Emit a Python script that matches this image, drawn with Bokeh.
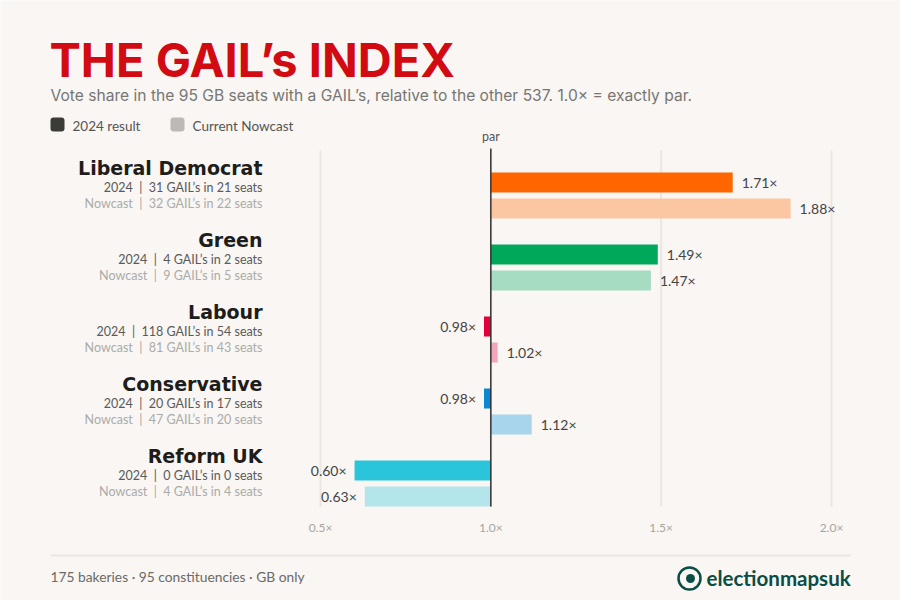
from bokeh.plotting import figure
from bokeh.models import Range1d
from bokeh.core.properties import value
from bokeh.embed import file_html
from bokeh.resources import INLINE

# ---------------- data ----------------
parties = ["Liberal Democrat", "Green", "Labour", "Conservative", "Reform UK"]
ratio_2024 = [1.71, 1.49, 0.98, 0.98, 0.60]
ratio_nowcast = [1.88, 1.47, 1.02, 1.12, 0.63]
gails_2024 = [31, 4, 118, 20, 0]
seats_2024 = [21, 2, 54, 17, 0]
gails_nowcast = [32, 9, 81, 47, 4]
seats_nowcast = [22, 5, 43, 20, 4]
colors_2024 = ["#ff6600", "#00a85a", "#e4003b", "#0a87d2", "#2ac5da"]
colors_nowcast = ["#fbc6a2", "#a6dcc1", "#f3a6b9", "#a8d5ec", "#b3e5ea"]
tick_values = [0.5, 1.0, 1.5, 2.0]
tick_labels = ["0.5×", "1.0×", "1.5×", "2.0×"]
legend_labels = ["2024 result", "Current Nowcast"]
legend_colors = ["#3b3b37", "#bdbab5"]

TITLE = "THE GAIL\u2019s INDEX"
SUBTITLE = "Vote share in the 95 GB seats with a GAIL\u2019s, relative to the other 537. 1.0× = exactly par."
FOOTER = "175 bakeries · 95 constituencies · GB only"
BRAND = "electionmapsuk"

# ---------------- layout ----------------
BG = "#f9f6f3"
W, H = 900, 600
PX = 511 / 1.5          # pixels per unit of ratio
GROUP = 72.0            # pixels per party group
X0_PAGE, Y0_PAGE = 320, 195   # page px of x=0.5 and of group 0 centre
NB = "\u00a0"


def X(px):
    return 0.5 + (px - X0_PAGE) / PX


def Y(py):
    return (py - Y0_PAGE) / GROUP


x_range = Range1d(X(0), X(W))
y_range = Range1d(Y(H), Y(0))

p = figure(width=W, height=H, x_range=x_range, y_range=y_range,
           x_axis_location=None, y_axis_location=None, title=None,
           min_border=0, toolbar_location=None, output_backend="svg",
           background_fill_color=BG, border_fill_color=BG,
           outline_line_color=None)
p.grid.visible = False

LATO = value("Lato")
INTER = value("Inter")

# grid lines
grid_top, grid_bot = Y(150), Y(506)
p.segment(x0=tick_values, x1=tick_values, y0=[grid_top] * 4, y1=[grid_bot] * 4,
          line_color="#ebe6de", line_width=2)
# tick labels
p.text(x=tick_values, y=[Y(527)] * 4, text=tick_labels, text_font=LATO,
       text_font_size="12px", text_color="#a8a5a0", text_align="center",
       text_baseline="middle")

# bars
n = len(parties)
off = 13 / GROUP
bh = 20 / GROUP
y24 = [i - off for i in range(n)]
ync = [i + off for i in range(n)]
p.hbar(y=y24, left=[1.0] * n, right=ratio_2024, height=bh,
       fill_color=colors_2024, line_color=None)
p.hbar(y=ync, left=[1.0] * n, right=ratio_nowcast, height=bh,
       fill_color=colors_nowcast, line_color=None)

# par line
p.segment(x0=[1.0], x1=[1.0], y0=[Y(148)], y1=[grid_bot], line_color="#333333",
          line_width=1.5)
p.text(x=[1.0], y=[Y(136)], text=["par"], text_font=LATO, text_font_size="12.5px",
       text_color="#555555", text_align="center", text_baseline="middle")

# value labels
for ys, vals in ((y24, ratio_2024), (ync, ratio_nowcast)):
    for yy, v in zip(ys, vals):
        right = v >= 1.0
        p.text(x=[v], y=[yy], text=[f"{v:.2f}×"], text_font=LATO,
               text_font_size="14px", text_color="#444444",
               text_align="left" if right else "right", text_baseline="middle",
               x_offset=9 if right else -8)

# left party labels
lx = X(262)
p.text(x=[lx] * n, y=[i - 28 / GROUP for i in range(n)], text=parties,
       text_font=value("DejaVu Sans"), text_font_style="bold",
       text_font_size="19px", text_color="#1d1d1b", text_align="right",
       text_baseline="middle")
sep = NB + NB + "|" + NB + NB
p.text(x=[lx] * n, y=[i - 8 / GROUP for i in range(n)],
       text=[f"2024{sep}{g} GAIL\u2019s in {s} seats" for g, s in zip(gails_2024, seats_2024)],
       text_font=LATO, text_font_size="12.5px", text_color="#5a5a58",
       text_align="right", text_baseline="middle")
p.text(x=[lx] * n, y=[i + 8 / GROUP for i in range(n)],
       text=[f"Nowcast{sep}{g} GAIL\u2019s in {s} seats" for g, s in zip(gails_nowcast, seats_nowcast)],
       text_font=LATO, text_font_size="12.5px", text_color="#ababa8",
       text_align="right", text_baseline="middle")

# title & subtitle
p.text(x=[X(49)], y=[Y(59)], text=[TITLE], text_font=INTER,
       text_font_style="bold", text_font_size="47px", text_color="#d20a11",
       text_align="left", text_baseline="middle")
p.text(x=[X(50)], y=[Y(95)], text=[SUBTITLE], text_font=INTER,
       text_font_size="15.6px", text_color="#777673", text_align="left",
       text_baseline="middle")

# legend
p.quad(left=[X(50), X(170)], right=[X(64), X(184)], top=[Y(117)] * 2,
       bottom=[Y(131)] * 2, border_radius=3, fill_color=legend_colors,
       line_color=None)
p.text(x=[X(72), X(192)], y=[Y(125)] * 2, text=legend_labels, text_font=LATO,
       text_font_size="13.5px", text_color="#555553", text_align="left",
       text_baseline="middle")

# footer
p.segment(x0=[X(50)], x1=[X(850)], y0=[Y(555)], y1=[Y(555)],
          line_color="#ece8e1", line_width=2)
p.text(x=[X(50)], y=[Y(576)], text=[FOOTER], text_font=LATO,
       text_font_size="13.8px", text_color="#6a6a67", text_align="left",
       text_baseline="middle")
p.scatter(x=[X(689)], y=[Y(578)], marker="circle", size=22, fill_color=None,
          line_color="#0b4d45", line_width=2.5)
p.scatter(x=[X(690)], y=[Y(578)], marker="circle", size=9, fill_color="#0b4d45",
          line_color=None)
p.text(x=[X(706)], y=[Y(577)], text=[BRAND], text_font=LATO,
       text_font_style="bold", text_font_size="20.5px", text_color="#0b4d45",
       text_align="left", text_baseline="middle")

open("out.html", "w").write(file_html(p, INLINE))
